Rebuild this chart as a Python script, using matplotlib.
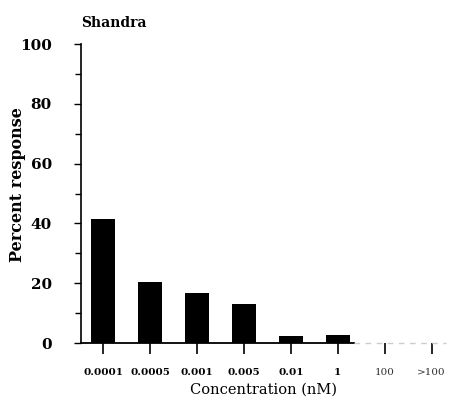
import matplotlib
matplotlib.use("Agg")
import matplotlib.pyplot as plt
from matplotlib.ticker import MultipleLocator

categories = ["0.0001", "0.0005", "0.001", "0.005", "0.01", "1", "100", ">100"]
response = [41.5, 20.5, 16.8, 13.0, 2.4, 2.8, 0, 0]
yticks = [0, 20, 40, 60, 80, 100]

plt.rcParams['font.family'] = ['DejaVu Serif']

fig = plt.figure(figsize=(4.53, 4.05), dpi=100)
ax = fig.add_axes([0.179, 0.153, 0.805, 0.738])

x = list(range(len(categories)))
ax.bar(x, response, width=0.5, color="black")

ax.set_xlim(-0.47, 7.3)
ax.set_ylim(0, 100)

for s in ["top", "right", "bottom"]:
    ax.spines[s].set_visible(False)
ax.spines["left"].set_linewidth(1.2)

# baseline: solid under the measured bars, faint beyond
ax.plot([-0.47, 5.35], [0, 0], color="black", lw=1.3, clip_on=False)
ax.plot([5.35, 7.3], [0, 0], color="#cccccc", lw=1.0, ls=(0, (4, 4)), clip_on=False)

ax.set_yticks(yticks)
ax.yaxis.set_minor_locator(MultipleLocator(10))
ax.tick_params(axis="y", which="major", length=5, width=1, pad=16, labelsize=11)
ax.tick_params(axis="y", which="minor", length=4, width=1)
for lab in ax.get_yticklabels():
    lab.set_fontweight("bold")

ax.set_xticks(x)
ax.set_xticklabels(categories, fontsize=7.5, fontweight="bold")
ax.tick_params(axis="x", length=8, width=1.2, pad=10, direction="out")
for t, tl in zip(ax.xaxis.get_major_ticks()[6:], ax.get_xticklabels()[6:]):
    t.tick1line.set_color("#bbbbbb")
    tl.set_fontweight("normal")
    tl.set_color("#333333")

ax.set_xlabel("Concentration (nM)", fontsize=10.5, labelpad=4)
ax.set_ylabel("Percent response", fontsize=11.5, fontweight="bold")
ax.yaxis.set_label_coords(-0.152, 0.53)
ax.set_title("Shandra", fontsize=10, fontweight="bold", loc="left", pad=12)

fig.savefig("out.png", dpi=100)
